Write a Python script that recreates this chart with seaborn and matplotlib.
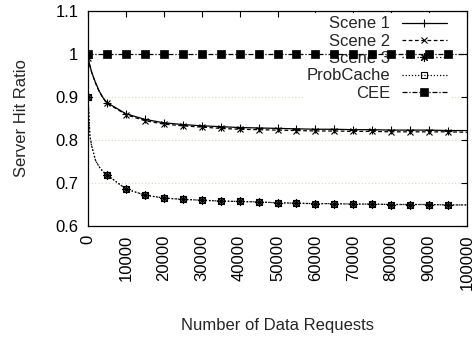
import matplotlib
matplotlib.use("Agg")
import matplotlib.pyplot as plt
import seaborn as sns
import pandas as pd

# ---- data ----
requests = [0, 500, 1000, 2000, 3000, 4000, 5000, 10000, 15000, 20000, 25000,
            30000, 35000, 40000, 45000, 50000, 55000, 60000, 65000, 70000,
            75000, 80000, 85000, 90000, 95000, 100000]
scene1 = [0.990, 0.973, 0.957, 0.933, 0.913, 0.898, 0.887, 0.861, 0.848, 0.840,
          0.836, 0.833, 0.831, 0.829, 0.828, 0.827, 0.826, 0.825, 0.825, 0.824,
          0.824, 0.823, 0.823, 0.823, 0.822, 0.822]
scene2 = [0.990, 0.972, 0.956, 0.932, 0.912, 0.897, 0.886, 0.859, 0.845, 0.837,
          0.833, 0.830, 0.827, 0.825, 0.824, 0.823, 0.822, 0.821, 0.821, 0.820,
          0.820, 0.819, 0.819, 0.819, 0.819, 0.818]
scene3 = [0.900, 0.810, 0.785, 0.752, 0.737, 0.726, 0.719, 0.686, 0.672, 0.665,
          0.662, 0.660, 0.658, 0.657, 0.656, 0.654, 0.653, 0.652, 0.652, 0.651,
          0.651, 0.650, 0.650, 0.650, 0.649, 0.649]
probcache = [0.900, 0.810, 0.785, 0.752, 0.737, 0.726, 0.719, 0.686, 0.672, 0.665,
             0.662, 0.660, 0.658, 0.657, 0.656, 0.654, 0.653, 0.652, 0.652, 0.651,
             0.651, 0.650, 0.650, 0.650, 0.649, 0.649]
cee = [1.0] * len(requests)
series_names = ["Scene 1", "Scene 2", "Scene 3", "ProbCache", "CEE"]
x_ticks = [0, 10000, 20000, 30000, 40000, 50000, 60000, 70000, 80000, 90000, 100000]
y_ticks = [0.6, 0.7, 0.8, 0.9, 1.0, 1.1]
y_tick_labels = ["0.6", "0.7", "0.8", "0.9", "1", "1.1"]

sns.set_theme(style="white")
plt.rcParams["font.family"] = ["Liberation Sans", "DejaVu Sans"]
FS = 12
plt.rcParams["font.size"] = FS

fig = plt.figure(figsize=(4.72, 3.39), dpi=100)
ax = fig.add_axes([88 / 472, 1 - 226 / 339, (467 - 88) / 472, (226 - 11) / 339])

mark_idx = [0] + list(range(6, 25))
styles = [
    dict(linestyle="-", marker="+", markersize=6, markeredgewidth=0.8),
    dict(linestyle=(0, (3, 2)), marker="x", markersize=4.5, markeredgewidth=0.8),
    dict(linestyle=(0, (1, 2)), marker=(8, 2, 0), markersize=6.5, markeredgewidth=0.8),
    dict(linestyle=(0, (1, 1.5)), marker="s", markersize=4.5, markerfacecolor="none",
         markeredgewidth=0.8),
    dict(linestyle=(0, (4, 1.5, 1, 1.5)), marker="s", markersize=5.5,
         markerfacecolor="black", markeredgewidth=0.5),
]
values = [scene1, scene2, scene3, probcache, cee]
for name, vals, st in zip(series_names, values, styles):
    df = pd.DataFrame({"x": requests, "y": vals})
    sns.lineplot(data=df, x="x", y="y", ax=ax, color="black", linewidth=0.9,
                 markeredgecolor="black", markevery=mark_idx, label=name,
                 zorder=3, **st)

ax.set_xlim(0, 100000)
ax.set_ylim(0.6, 1.1)
ax.set_xticks(x_ticks)
ax.set_xticklabels([str(t) for t in x_ticks], rotation=90, ha="center", va="top")
ax.set_yticks(y_ticks)
ax.set_yticklabels(y_tick_labels)
ax.tick_params(direction="in", length=4.5, width=0.8, top=True, right=True,
               labelsize=FS, colors="black")
ax.tick_params(axis="x", pad=6)
ax.tick_params(axis="y", pad=7)
for s in ax.spines.values():
    s.set_color("black")
    s.set_linewidth(0.9)

ax.set_axisbelow(True)
ax.yaxis.grid(True, color="#d8d8b8", linestyle=(0, (1, 2)), linewidth=0.8)
ax.xaxis.grid(False)

ax.set_xlabel("Number of Data Requests", fontsize=FS, labelpad=20)
ax.set_ylabel("Server Hit Ratio", fontsize=FS, labelpad=19)

leg = ax.legend(loc="upper right", bbox_to_anchor=(0.955, 0.99), markerfirst=False,
                frameon=True, fancybox=False, facecolor="white", edgecolor="none",
                framealpha=1.0, handlelength=2.7, handletextpad=0.7,
                labelspacing=0.14, borderaxespad=0.0, borderpad=0.2,
                fontsize=FS, numpoints=1)
leg.set_zorder(2)

fig.savefig("out.png", dpi=100)
